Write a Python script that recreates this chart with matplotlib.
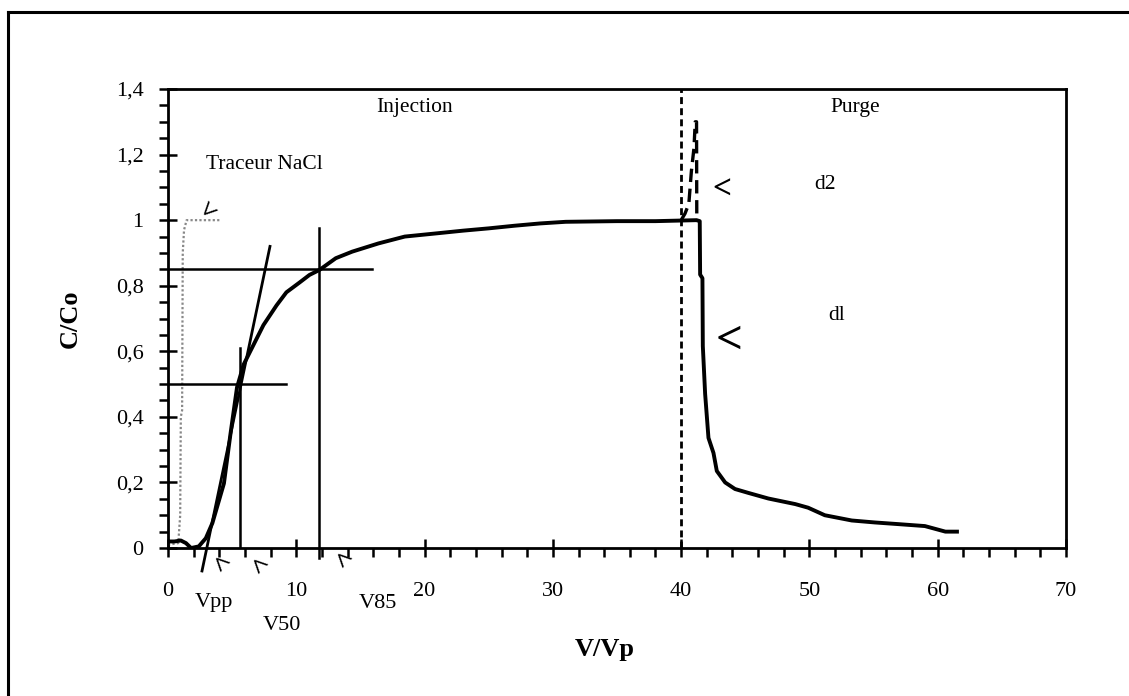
import matplotlib
matplotlib.use("Agg")
import matplotlib.pyplot as plt
from matplotlib.lines import Line2D
from matplotlib.ticker import MultipleLocator, FuncFormatter

plt.rcParams["font.family"] = ["Liberation Serif", "DejaVu Serif"]

# injection / purge breakthrough curve (C/Co vs V/Vp)
main_x = [0.0, 0.5, 1.0, 1.4, 1.8, 2.4, 2.95, 3.46, 4.36, 4.87, 5.38, 5.9, 6.67,
          7.44, 8.46, 9.23, 10.26, 11.03, 11.8, 13.08, 14.36, 16.4, 18.46, 21.0,
          23.0, 25.0, 27.0, 29.0, 31.0, 35.0, 38.0, 41.2, 41.45, 41.48, 41.66,
          41.69, 41.87, 42.13, 42.52, 42.78, 43.43, 44.2, 45.25, 46.8, 48.9,
          49.9, 51.2, 53.3, 55.1, 56.9, 59.0, 60.6, 61.5]
main_y = [0.02, 0.02, 0.023, 0.015, 0.0, 0.005, 0.03, 0.076, 0.197, 0.348, 0.49,
          0.56, 0.62, 0.68, 0.74, 0.78, 0.81, 0.833, 0.848, 0.884, 0.904, 0.929,
          0.95, 0.96, 0.968, 0.975, 0.983, 0.99, 0.995, 0.997, 0.997, 1.0, 0.997,
          0.834, 0.823, 0.616, 0.47, 0.336, 0.29, 0.235, 0.2, 0.18, 0.168, 0.151,
          0.134, 0.123, 0.10, 0.084, 0.078, 0.073, 0.067, 0.05, 0.05]

# tracer NaCl (dotted)
nacl_x = [0.0, 0.8, 0.95, 1.0, 1.1, 1.15, 1.25, 1.45, 4.1]
nacl_y = [0.01, 0.015, 0.1, 0.4, 0.42, 0.9, 0.97, 1.0, 1.0]

# d2 peak (dashed)
d2_x = [40.0, 40.3, 40.6, 40.8, 41.0, 41.1, 41.2, 41.22]
d2_y = [1.0, 1.02, 1.05, 1.15, 1.22, 1.3, 1.3, 1.0]

# graphical construction
tangent_x = [2.65, 7.95]
tangent_y = [-0.07, 0.92]
v50 = 5.64
v85 = 11.8
c50 = 0.5
c85 = 0.85
v_switch = 40.0

fig = plt.figure(figsize=(11.29, 6.96), dpi=100)
ax = fig.add_axes([0.1488, 0.2126, 0.7954, 0.6595])

ax.plot(nacl_x, nacl_y, color="#888888", lw=1.6, ls=(0, (1, 1)))
ax.plot(main_x, main_y, color="black", lw=2.8)
ax.plot(d2_x, d2_y, color="black", lw=2.4, ls=(0, (4, 2)))
ax.plot(tangent_x, tangent_y, color="black", lw=2.0, clip_on=False)

# V50 / V85 construction lines
ax.plot([0, 9.2], [c50, c50], color="black", lw=1.8)
ax.plot([v50, v50], [0, 0.61], color="black", lw=1.8)
ax.plot([0, 15.9], [c85, c85], color="black", lw=1.8)
ax.plot([v85, v85], [-0.03, 0.975], color="black", lw=1.8, clip_on=False)
ax.plot([v_switch, v_switch], [0, 1.4], color="black", lw=2.0, ls=(0, (2.5, 1.5)))

ax.set_xlim(0, 70)
ax.set_ylim(0, 1.4)
ax.xaxis.set_major_locator(MultipleLocator(10))
ax.xaxis.set_minor_locator(MultipleLocator(2))
ax.yaxis.set_major_locator(MultipleLocator(0.2))
ax.yaxis.set_minor_locator(MultipleLocator(0.05))
ax.yaxis.set_major_formatter(FuncFormatter(lambda v, p: f"{v:g}".replace(".", ",")))

ax.tick_params(which="major", direction="inout", length=13, width=1.8, labelsize=16)
ax.tick_params(which="minor", direction="out", length=6.5, width=1.8)
ax.tick_params(axis="x", which="major", pad=18)
ax.tick_params(axis="y", which="major", pad=11)
for s in ax.spines.values():
    s.set_linewidth(2.0)

ax.set_ylabel("C/Co", fontsize=19, fontweight="bold")
ax.yaxis.set_label_coords(-0.096, 0.5)
ax.set_xlabel("V/Vp", fontsize=19, fontweight="bold")
ax.xaxis.set_label_coords(0.486, -0.196)

ax.text(19.2, 1.345, "Injection", fontsize=15.5, ha="center", va="center")
ax.text(7.5, 1.17, "Traceur NaCl", fontsize=15.5, ha="center", va="center")
ax.text(53.6, 1.345, "Purge", fontsize=15.5, ha="center", va="center")
ax.text(51.2, 1.11, "d2", fontsize=15.5, ha="center", va="center")
ax.text(52.1, 0.71, "dl", fontsize=15.5, ha="center", va="center")
ax.text(3.6, -0.165, "Vpp", fontsize=16, ha="center", va="center", clip_on=False)
ax.text(8.9, -0.235, "V50", fontsize=16, ha="center", va="center", clip_on=False)
ax.text(16.4, -0.168, "V85", fontsize=16, ha="center", va="center", clip_on=False)

# hand-drawn arrow marks
ax.text(43.2, 1.09, "<", fontsize=24, fontweight="bold", ha="center", va="center")
ax.text(43.7, 0.63, "<", fontsize=34, fontweight="bold", ha="center", va="center")
ax.text(3.3, 1.03, "<", fontsize=20, fontweight="bold", rotation=45, ha="center", va="center")
ax.text(3.9, -0.05, "<", fontsize=20, fontweight="bold", rotation=-45, ha="center",
        va="center", clip_on=False)
ax.text(6.85, -0.055, "<", fontsize=20, fontweight="bold", rotation=-45, ha="center",
        va="center", clip_on=False)
ax.text(13.4, -0.037, "<", fontsize=20, fontweight="bold", rotation=-45, ha="center",
        va="center", clip_on=False)

# outer frame (cropped on right and bottom)
fig.add_artist(Line2D([8 / 1129, 1.0], [1 - 12 / 696] * 2, color="black", lw=2.2))
fig.add_artist(Line2D([8 / 1129] * 2, [0.0, 1 - 12 / 696], color="black", lw=2.2))

fig.savefig("out.png", dpi=100)
